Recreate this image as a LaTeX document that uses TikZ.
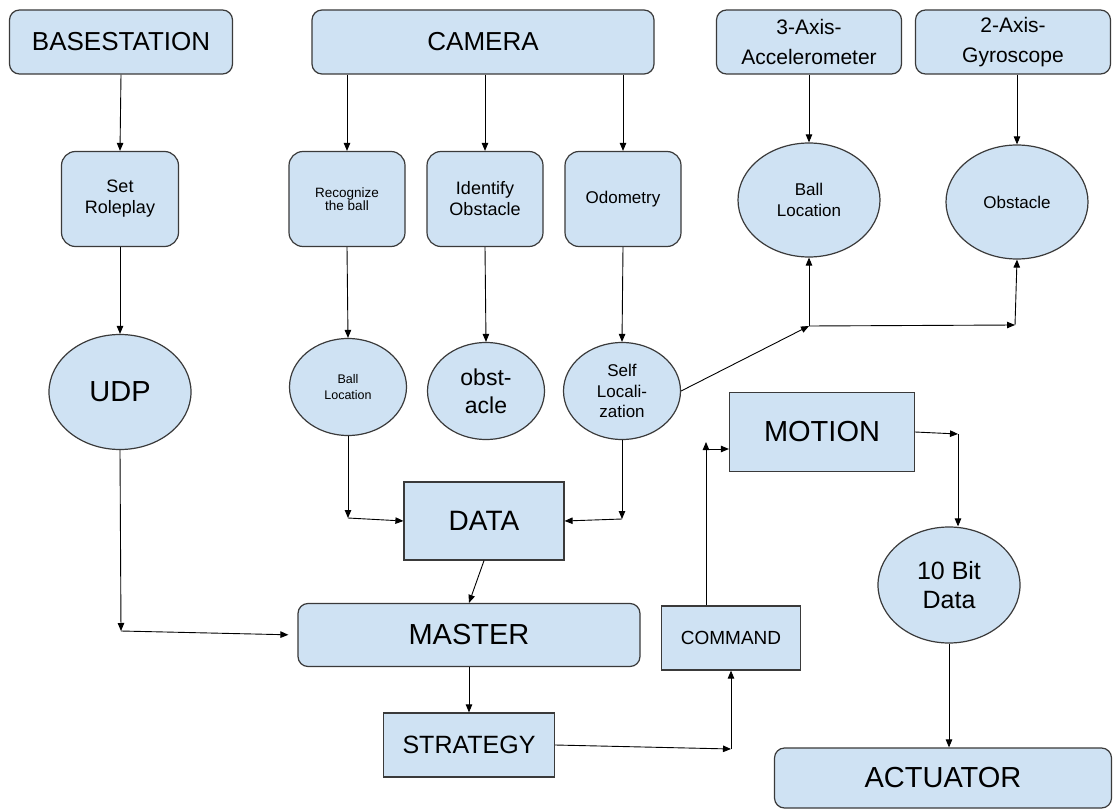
\documentclass[tikz,border=0pt]{standalone}
\usepackage{fontspec}
\setmainfont{Liberation Sans}
\usetikzlibrary{arrows.meta,shapes.geometric}
\definecolor{boxblue}{HTML}{CFE2F3}
\definecolor{linegray}{HTML}{3A3A3A}
\newcommand{\boxfont}[2]{\fontsize{#1}{#2}\selectfont}

\begin{document}
\begin{tikzpicture}[x=1pt,y=-1pt,
  sqbox/.style={draw=linegray,fill=boxblue,line width=1.2pt,inner sep=0pt,align=center},
  rbox/.style={sqbox,rounded corners=10pt},
  oval/.style={sqbox,ellipse},
  arr/.style={-{Triangle[length=8pt,width=6.5pt]},line width=0.9pt,black}]
\useasboundingbox [fill=white] (0,0) rectangle (1113,810);

\node [rbox, minimum width=223pt, minimum height=64pt, font=\boxfont{26}{30}] (base) at (121,42) {BASESTATION};
\node [rbox, minimum width=342pt, minimum height=64pt, font=\boxfont{26}{30}] (camera) at (483,42) {CAMERA};
\node [rbox, minimum width=185pt, minimum height=64pt, font=\boxfont{21}{30}] (accel) at (809,42) {3-Axis-\\Accelerometer};
\node [rbox, minimum width=195pt, minimum height=64pt, font=\boxfont{21}{30}] (gyro) at (1013,42) {2-Axis-\\Gyroscope};

\node [rbox, rounded corners=14pt, minimum width=117pt, minimum height=95pt, font=\boxfont{18}{21}] (role) at (120,199) {Set\\Roleplay};
\node [rbox, rounded corners=14pt, minimum width=116pt, minimum height=95pt, font=\boxfont{13.5}{13.5}] (recog) at (347,199) {Recognize\\the ball};
\node [rbox, rounded corners=14pt, minimum width=116pt, minimum height=95pt, font=\boxfont{18}{21}] (ident) at (485,199) {Identify\\Obstacle};
\node [rbox, rounded corners=14pt, minimum width=116pt, minimum height=95pt, font=\boxfont{17}{20}] (odo) at (623,199) {Odometry};
\node [oval, minimum width=142pt, minimum height=114pt, font=\boxfont{17}{21}] (balla) at (809,200) {Ball\\Location};
\node [oval, minimum width=142pt, minimum height=114pt, font=\boxfont{17}{20}] (obsa) at (1017,202) {Obstacle};

\node [oval, minimum width=142pt, minimum height=115pt, font=\boxfont{29}{33}] (udp) at (120,392) {UDP};
\node [oval, minimum width=117pt, minimum height=97pt, font=\boxfont{12.5}{16}] (ballb) at (348,387) {Ball\\Location};
\node [oval, minimum width=117pt, minimum height=97pt, font=\boxfont{23}{28}] (obsb) at (486,391) {obst-\\acle};
\node [oval, minimum width=117pt, minimum height=97pt, font=\boxfont{17}{20.5}] (self) at (622,391) {Self\\Locali-\\zation};

\node [sqbox, minimum width=160pt, minimum height=78pt, font=\boxfont{28}{32}] (data) at (484,521) {DATA};
\node [sqbox, minimum width=185pt, minimum height=79pt, font=\boxfont{29}{33}] (motion) at (822,432) {MOTION};
\node [rbox, minimum width=342pt, minimum height=63pt, font=\boxfont{29}{33}] (master) at (469,635) {MASTER};
\node [sqbox, minimum width=139pt, minimum height=64pt, font=\boxfont{19}{22}] (command) at (731,638) {COMMAND};
\node [sqbox, minimum width=171pt, minimum height=64pt, font=\boxfont{25}{29}] (strategy) at (469,745) {STRATEGY};
\node [oval, minimum width=142pt, minimum height=116pt, font=\boxfont{25}{29}] (bits) at (949,585) {10 Bit\\Data};
\node [rbox, minimum width=337pt, minimum height=60pt, font=\boxfont{29}{33}] (actuator) at (943,778) {ACTUATOR};

\coordinate (c1) at (121,631);
\coordinate (c2) at (348,518);
\coordinate (c3) at (622,519);
\coordinate (c4) at (809,326);
\coordinate (c5) at (1015,325);
\coordinate (c6) at (731,749);
\coordinate (c7) at (706,442);
\coordinate (c8) at (706,449);
\coordinate (c9) at (958,434);

\draw [arr] (base.south) -- (role.north);
\draw [arr] (recog.north |- camera.south) -- (recog.north);
\draw [arr] (ident.north |- camera.south) -- (ident.north);
\draw [arr] (odo.north |- camera.south) -- (odo.north);
\draw [arr] (balla.north |- accel.south) -- (balla.north);
\draw [arr] (obsa.north |- gyro.south) -- (obsa.north);
\draw [arr] (role.south) -- (udp.north);
\draw [arr] (recog.south) -- (ballb.north);
\draw [arr] (ident.south) -- (obsb.north);
\draw [arr] (odo.south) -- (self.north);

\draw [arr] (udp.south) -- (c1);
\draw [arr, shorten >=9pt] (c1) -- (master.west);
\draw [arr] (ballb.south) -- (c2);
\draw [arr] (c2) -- (data.west);
\draw [arr] (self.south) -- (c3);
\draw [arr] (c3) -- (data.east);
\draw [arr] (self.east) -- (c4);
\draw [arr] (c4) -- (balla.south);
\draw [arr] (c4) -- (c5);
\draw [arr] (c5) -- (obsa.south);

\draw [arr] (data.south) -- (master.north);
\draw [arr] (master.south) -- (strategy.north);
\draw [arr] (strategy.east) -- (c6);
\draw [arr] (c6) -- (command.south);
\draw [arr] (c7 |- command.north) -- (c7);
\draw [arr] (c8) -- (c8 -| motion.west);
\draw [arr] (motion.east) -- (c9);
\draw [arr] (c9) -- (c9 |- bits.north);
\draw [arr] (bits.south) -- (bits.south |- actuator.north);
\end{tikzpicture}
\end{document}
